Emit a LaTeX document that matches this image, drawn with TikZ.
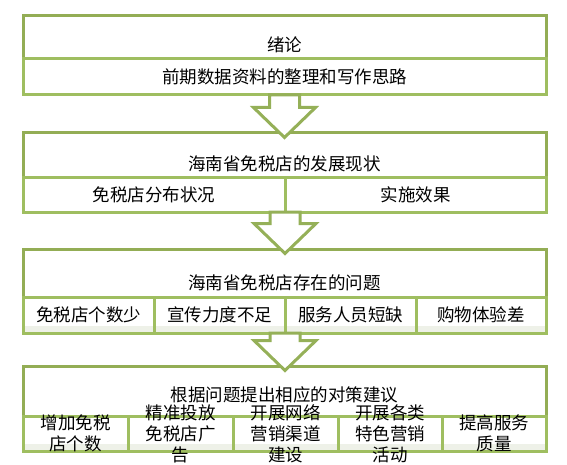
\documentclass[tikz,border=0pt]{standalone}
\usepackage{fontspec}
\newfontfamily\cjkfont{Noto Sans CJK SC}
\usetikzlibrary{calc}
\definecolor{titlegreen}{HTML}{93AD55}
\definecolor{rowgreen}{HTML}{9FBE60}
\definecolor{arrowgreen}{HTML}{95B058}
\definecolor{bandgray}{HTML}{EEF1E8}
\begin{document}
\begin{tikzpicture}[x=1pt,y=-1pt,
  txt/.style={font=\cjkfont\fontsize{17.5}{21}\selectfont, text=black, align=center, inner sep=0pt},
  titlebox/.style={draw=titlegreen, line width=3pt, fill=white, anchor=north west, minimum width=523pt, inner sep=0pt, outer sep=0pt},
  cellbox/.style={draw=rowgreen, line width=3pt, fill=white, anchor=north west, inner sep=0pt, outer sep=0pt},
  banded/.style={path picture={\fill[bandgray] ([yshift=1.5pt]path picture bounding box.south west) rectangle ([yshift=7.5pt]path picture bounding box.south east);}},
  blockarrow/.style={draw=arrowgreen, line width=3pt, fill=white, line join=miter},
  celltext/.style={label={[txt,anchor=center]center:#1}},
  titletext/.style={label={[txt,anchor=center,yshift=14pt]south:#1}}
]
\useasboundingbox[fill=white] (0,0) rectangle (567,465);

% Box 1
\node[titlebox, minimum height=43pt, titletext={绪论}] (t1) at (23,16) {};
\node[cellbox, minimum width=523pt, minimum height=36pt, celltext={前期数据资料的整理和写作思路}] (r1) at (t1.south west) {};

% Box 2
\node[titlebox, minimum height=45pt, titletext={海南省免税店的发展现状}] (t2) at (23,133) {};
\node[cellbox, minimum width=262pt, minimum height=34pt, celltext={免税店分布状况}] (c21) at (t2.south west) {};
\node[cellbox, minimum width=261pt, minimum height=34pt, celltext={实施效果}] (c22) at (c21.north east) {};

% Box 3
\node[titlebox, minimum height=48pt, titletext={海南省免税店存在的问题}] (t3) at (23,249) {};
\node[cellbox, banded, minimum width=131pt, minimum height=36pt, celltext={免税店个数少}] (c31) at (t3.south west) {};
\node[cellbox, banded, minimum width=131pt, minimum height=36pt, celltext={宣传力度不足}] (c32) at (c31.north east) {};
\node[cellbox, banded, minimum width=131pt, minimum height=36pt, celltext={服务人员短缺}] (c33) at (c32.north east) {};
\node[cellbox, banded, minimum width=130pt, minimum height=36pt, celltext={购物体验差}] (c34) at (c33.north east) {};

% Box 4
\node[titlebox, minimum height=50pt, label={[txt,anchor=center,yshift=21pt]south:根据问题提出相应的对策建议}] (t4) at (23,366) {};
\node[cellbox, banded, minimum width=105pt, minimum height=35pt, celltext={增加免税\\店个数}] (c41) at (t4.south west) {};
\node[cellbox, banded, minimum width=105pt, minimum height=35pt, celltext={精准投放\\免税店广\\告}] (c42) at (c41.north east) {};
\node[cellbox, banded, minimum width=105pt, minimum height=35pt, celltext={开展网络\\营销渠道\\建设}] (c43) at (c42.north east) {};
\node[cellbox, banded, minimum width=104pt, minimum height=35pt, celltext={开展各类\\特色营销\\活动}] (c44) at (c43.north east) {};
\node[cellbox, banded, minimum width=104pt, minimum height=35pt, celltext={提高服务\\质量}] (c45) at (c44.north east) {};

% Block arrows
\draw[blockarrow] let \p1=(r1.south), \p2=(t2.north) in
  (\x1-15pt,\y1) -- (\x1-15pt,\y2+25.5pt) -- (\x1-31pt,\y2+25.5pt) -- (\x1,\y2-4.5pt)
  -- (\x1+31pt,\y2+25.5pt) -- (\x1+15pt,\y2+25.5pt) -- (\x1+15pt,\y1) -- cycle;
\draw[blockarrow] let \p1=(c21.south east), \p2=(t3.north) in
  (\x1-15pt,\y1) -- (\x1-15pt,\y2+25.5pt) -- (\x1-31pt,\y2+25.5pt) -- (\x1,\y2-4.5pt)
  -- (\x1+31pt,\y2+25.5pt) -- (\x1+15pt,\y2+25.5pt) -- (\x1+15pt,\y1) -- cycle;
\draw[blockarrow] let \p1=(c32.south east), \p2=(t4.north) in
  (\x1-15pt,\y1) -- (\x1-15pt,\y2+25.5pt) -- (\x1-31pt,\y2+25.5pt) -- (\x1,\y2-4.5pt)
  -- (\x1+31pt,\y2+25.5pt) -- (\x1+15pt,\y2+25.5pt) -- (\x1+15pt,\y1) -- cycle;
\end{tikzpicture}
\end{document}
